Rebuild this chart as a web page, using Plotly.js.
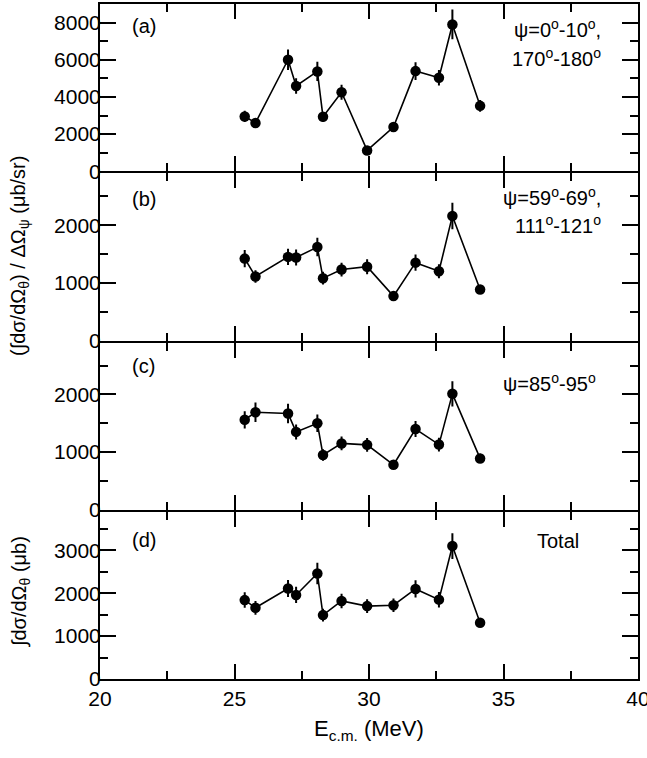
<!DOCTYPE html>
<html>
<head>
<meta charset="utf-8">
<script src="https://cdn.plot.ly/plotly-3.0.1.min.js"></script>
<style>html,body{margin:0;padding:0;background:#fff;}#chart{width:647px;height:758px;}</style>
</head>
<body>
<div id="chart"></div>
<script>
// Centre-of-mass energy (MeV)
const energy = [25.38, 25.78, 26.99, 27.29, 28.08, 28.29, 28.98, 29.93, 30.91, 31.73, 32.60, 33.10, 34.13];

// (a) psi = 0-10, 170-180 deg  (ub/sr)
const valA = [2950, 2600, 6000, 4590, 5370, 2930, 4250, 1120, 2380, 5390, 5030, 7900, 3520];
const errA = [300, 220, 550, 420, 520, 260, 400, 130, 180, 480, 420, 800, 320];

// (b) psi = 59-69, 111-121 deg  (ub/sr)
const valB = [1420, 1110, 1450, 1440, 1620, 1080, 1230, 1280, 770, 1350, 1200, 2160, 885];
const errB = [150, 110, 140, 140, 160, 110, 120, 130, 60, 140, 120, 230, 70];

// (c) psi = 85-95 deg  (ub/sr)
const valC = [1560, 1690, 1670, 1350, 1500, 950, 1150, 1125, 780, 1400, 1130, 2010, 890];
const errC = [150, 170, 170, 130, 150, 100, 120, 120, 70, 140, 120, 220, 80];

// (d) Total  (ub)
const valD = [1840, 1660, 2110, 1960, 2460, 1490, 1820, 1700, 1720, 2100, 1850, 3100, 1310];
const errD = [180, 160, 200, 190, 250, 150, 170, 160, 160, 200, 180, 300, 100];

const panelLabels = ["(a)", "(b)", "(c)", "(d)"];

const FONT = "Liberation Sans, Arial, Helvetica, sans-serif";

function series(vals, errs, xa, ya) {
  return {
    x: energy, y: vals, xaxis: xa, yaxis: ya,
    type: 'scatter', mode: 'lines+markers',
    line: {color: 'black', width: 1.6},
    marker: {color: 'black', size: 10.5},
    error_y: {type: 'data', array: errs, visible: true, width: 0, thickness: 2, color: 'black'},
    showlegend: false, cliponaxis: false
  };
}

const data = [
  series(valD, errD, 'x', 'y'),
  series(valC, errC, 'x2', 'y2'),
  series(valB, errB, 'x3', 'y3'),
  series(valA, errA, 'x4', 'y4')
];

function xax(showLabels, anchor) {
  return {
    range: [20, 40], anchor: anchor, domain: [0, 1],
    dtick: 5, tick0: 20, ticks: 'inside', ticklen: 15, tickwidth: 2, tickcolor: 'black',
    minor: {dtick: 2.5, ticks: 'inside', ticklen: 8, tickwidth: 2, tickcolor: 'black', showgrid: false},
    showline: true, linewidth: 2, linecolor: 'black', mirror: 'ticks',
    showgrid: false, zeroline: false, showticklabels: showLabels,
    ticklabeloverflow: 'allow',
    tickfont: {family: FONT, size: 21, color: 'black'}
  };
}
function yax(range, dtick, minorDtick, domain, anchor) {
  return {
    range: range, domain: domain, anchor: anchor,
    dtick: dtick, tick0: 0, ticks: 'inside', ticklen: 16, tickwidth: 2, tickcolor: 'black',
    minor: {dtick: minorDtick, ticks: 'inside', ticklen: 8, tickwidth: 2, tickcolor: 'black', showgrid: false},
    showline: true, linewidth: 2, linecolor: 'black', mirror: 'ticks',
    showgrid: false, zeroline: false,
    ticklabelstandoff: -7,
    tickfont: {family: FONT, size: 21, color: 'black'}
  };
}

// pixel -> paper helpers (plot area: x 100..638, y 4..679)
const L = 100, R = 9, T = 4, B = 79, W = 647, H = 758;
const pw = W - L - R, ph = H - T - B;
const px = v => (v - L) / pw;
const py = v => (H - B - v) / ph;

// panel domains with a 2px gap so that the shared frame lines coincide
const gap = 2, hp = (ph - 3 * gap) / 4;
const dom = i => [(i * (hp + gap)) / ph, (i * (hp + gap) + hp) / ph];

function ann(text, x, y, xanchor, extra) {
  return Object.assign({
    text: text, xref: 'paper', yref: 'paper', x: px(x), y: py(y),
    xanchor: xanchor || 'center', yanchor: 'middle', showarrow: false,
    font: {family: FONT, size: 20, color: 'black'}
  }, extra || {});
}

const annotations = [
  ann(panelLabels[0], 130, 26, 'left'),
  ann(panelLabels[1], 130, 199, 'left'),
  ann(panelLabels[2], 130, 366, 'left'),
  ann(panelLabels[3], 130, 540, 'left'),
  ann('ψ=0<sup>o</sup>-10<sup>o</sup>,', 603, 28, 'right'),
  ann('170<sup>o</sup>-180<sup>o</sup>', 603, 58, 'right'),
  ann('ψ=59<sup>o</sup>-69<sup>o</sup>,', 603, 196, 'right'),
  ann('111<sup>o</sup>-121<sup>o</sup>', 603, 224, 'right'),
  ann('ψ=85<sup>o</sup>-95<sup>o</sup>', 598, 382, 'right'),
  ann('Total', 558, 541, 'center'),
  ann('(∫dσ/dΩ<sub>θ</sub>) / ΔΩ<sub>ψ</sub> (μb/sr)', 20, 256, 'center', {textangle: -90, font: {family: FONT, size: 20, color: 'black'}}),
  ann('∫dσ/dΩ<sub>θ</sub> (μb)', 20, 592, 'center', {textangle: -90, font: {family: FONT, size: 20, color: 'black'}}),
  ann('E<sub>c.m.</sub> (MeV)', 369, 730, 'center', {font: {family: FONT, size: 22, color: 'black'}})
];

const layout = {
  width: W, height: H,
  margin: {l: L, r: R, t: T, b: B, pad: 0},
  paper_bgcolor: 'white', plot_bgcolor: 'white',
  font: {family: FONT, size: 20, color: 'black'},
  showlegend: false,
  xaxis: xax(true, 'y'),
  xaxis2: Object.assign(xax(false, 'y2'), {matches: 'x'}),
  xaxis3: Object.assign(xax(false, 'y3'), {matches: 'x'}),
  xaxis4: Object.assign(xax(false, 'y4'), {matches: 'x'}),
  yaxis: yax([0, 3900], 1000, 500, dom(0), 'x'),
  yaxis2: yax([0, 2900], 1000, 500, dom(1), 'x2'),
  yaxis3: yax([0, 2900], 1000, 500, dom(2), 'x3'),
  yaxis4: yax([0, 9000], 2000, 1000, dom(3), 'x4'),
  annotations: annotations
};

Plotly.newPlot('chart', data, layout, {displayModeBar: false, staticPlot: true});
</script>
</body>
</html>
